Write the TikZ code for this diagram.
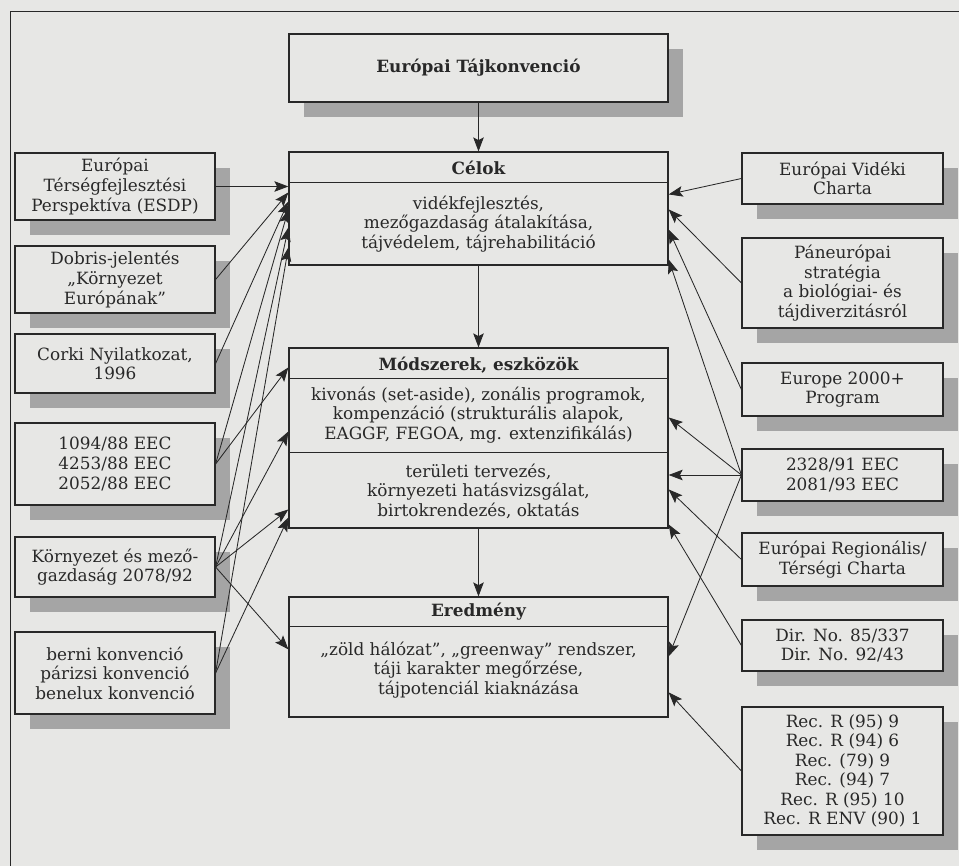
\documentclass[tikz,border=0pt]{standalone}
\usepackage{fontspec}
\setmainfont{DejaVu Serif}
\usepackage{tikz}
\usetikzlibrary{positioning,arrows.meta,calc,shadows}
\definecolor{paper}{RGB}{231,231,229}
\definecolor{inkgray}{RGB}{40,40,40}
\definecolor{shadegray}{RGB}{165,165,165}
\tikzset{
  source-box/.style={draw=inkgray, line width=0.8pt, fill=paper, align=center,
    inner sep=2pt, font=\fontsize{12}{13.9}\selectfont, text=inkgray,
    drop shadow={shadow xshift=0.375cm, shadow yshift=-0.375cm, fill=shadegray, opacity=1}},
  left-box/.style={source-box, minimum width=5cm},
  right-box/.style={source-box, minimum width=5.025cm},
  main-box/.style={draw=inkgray, line width=0.8pt, fill=paper, minimum width=9.475cm},
  title-text/.style={font=\fontsize{12}{13.9}\selectfont\bfseries, text=inkgray},
  body-text/.style={font=\fontsize{12}{13.9}\selectfont, text=inkgray, align=center},
  link-arrow/.style={-{Stealth[length=10pt,width=7.5pt,inset=2pt]}, line width=0.6pt, draw=inkgray},
  divider/.style={line width=0.8pt, draw=inkgray}
}

\begin{document}
\begin{tikzpicture}[x=0.025cm, y=-0.025cm]
\useasboundingbox (0,0) rectangle (959,866);
\clip (0,0) rectangle (959,866);
\fill[paper] (0,0) rectangle (959,866);
% page frame
\draw[inkgray, line width=0.7pt] (10,11) rectangle (990,900);

% Central column
\node[source-box, minimum width=9.475cm, minimum height=1.7cm, font=\fontsize{12}{13.9}\selectfont\bfseries] (tajkonv) at (478.5,68) {Európai Tájkonvenció};
\node[main-box, minimum height=2.825cm] (celok) at (478.5,208.5) {};
\node[main-box, minimum height=4.5cm] (modszer) at (478.5,438) {};
\node[main-box, minimum height=3cm] (eredmeny) at (478.5,657) {};

\draw[divider] ($(celok.north west)+(0,31)$) -- ($(celok.north east)+(0,31)$);
\draw[divider] ($(modszer.north west)+(0,31)$) -- ($(modszer.north east)+(0,31)$);
\draw[divider] ($(modszer.north west)+(0,105)$) -- ($(modszer.north east)+(0,105)$);
\draw[divider] ($(eredmeny.north west)+(0,30)$) -- ($(eredmeny.north east)+(0,30)$);

\node[title-text] (celok-title) at (478.5,168) {Célok};
\node[body-text] (celok-body) at (478.5,224) {vidékfejlesztés,\\mezőgazdaság átalakítása,\\tájvédelem, tájrehabilitáció};
\node[title-text] (modszer-title) at (478.5,365) {Módszerek, eszközök};
\node[body-text] (modszer-body) at (478.5,415) {kivonás (set-aside), zonális programok,\\kompenzáció (strukturális alapok,\\EAGGF, FEGOA, mg. extenzifikálás)};
\node[body-text] (modszer-plan) at (478.5,491) {területi tervezés,\\környezeti hatásvizsgálat,\\birtokrendezés, oktatás};
\node[title-text] (eredmeny-title) at (478.5,612) {Eredmény};
\node[body-text] (eredmeny-body) at (478.5,670) {„zöld hálózat”, „greenway” rendszer,\\táji karakter megőrzése,\\tájpotenciál kiaknázása};

% Left column
\node[left-box, minimum height=1.675cm] (esdp) at (115,186.5) {Európai\\Térségfejlesztési\\Perspektíva (ESDP)};
\node[left-box, minimum height=1.675cm] (dobris) at (115,279.5) {Dobris-jelentés\\„Környezet\\Európának”};
\node[left-box, minimum height=1.475cm] (corki) at (115,363.5) {Corki Nyilatkozat,\\1996};
\node[left-box, minimum height=2.05cm] (eec88) at (115,464) {1094/88 EEC\\4253/88 EEC\\2052/88 EEC};
\node[left-box, minimum height=1.5cm] (korny) at (115,567) {Környezet és mező-\\gazdaság 2078/92};
\node[left-box, minimum height=2.05cm] (berni) at (115,673) {berni konvenció\\párizsi konvenció\\benelux konvenció};

% Right column
\node[right-box, minimum height=1.275cm] (videki) at (842.5,178.5) {Európai Vidéki\\Charta};
\node[right-box, minimum height=2.25cm] (paneur) at (842.5,283) {Páneurópai\\stratégia\\a biológiai- és\\tájdiverzitásról};
\node[right-box, minimum height=1.325cm] (europe) at (842.5,389.5) {Europe 2000+\\Program};
\node[right-box, minimum height=1.3cm] (eec9193) at (842.5,475) {2328/91 EEC\\2081/93 EEC};
\node[right-box, minimum height=1.325cm] (regio) at (842.5,559.5) {Európai Regionális/\\Térségi Charta};
\node[right-box, minimum height=1.275cm] (dirno) at (842.5,645.5) {Dir. No. 85/337\\Dir. No. 92/43};
\node[right-box, minimum height=3.2cm] (recs) at (842.5,771) {Rec. R (95) 9\\Rec. R (94) 6\\Rec. (79) 9\\Rec. (94) 7\\Rec. R (95) 10\\Rec. R ENV (90) 1};

% Down the middle
\draw[link-arrow] (tajkonv) -- (celok);
\draw[link-arrow] (celok) -- (modszer);
\draw[link-arrow] (modszer) -- (eredmeny);

% From the left
\draw[link-arrow] (esdp.east) -- (esdp.east -| celok.west);
\draw[link-arrow] (dobris.east) -- ($(celok.north west)+(0,41)$);
\draw[link-arrow] (corki.east) -- ($(celok.north west)+(0,50)$);
\draw[link-arrow] (eec88.east) -- ($(celok.north west)+(0,58)$);
\draw[link-arrow] (eec88.east) -- ($(modszer.north west)+(0,20)$);
\draw[link-arrow] (korny.east) -- ($(celok.north west)+(0,76)$);
\draw[link-arrow] (korny.east) -- ($(modszer.north west)+(0,84)$);
\draw[link-arrow] (korny.east) -- ($(modszer.north west)+(0,162)$);
\draw[link-arrow] (korny.east) -- ($(eredmeny.north west)+(0,53)$);
\draw[link-arrow] (berni.east) -- ($(celok.north west)+(0,96)$);
\draw[link-arrow] (berni.east) -- ($(modszer.north west)+(0,170)$);

% From the right
\draw[link-arrow] (videki.west) -- ($(celok.north east)+(0,43)$);
\draw[link-arrow] (paneur.west) -- ($(celok.north east)+(0,58)$);
\draw[link-arrow] (europe.west) -- ($(celok.north east)+(0,78)$);
\draw[link-arrow] (eec9193.west) -- ($(celok.north east)+(0,108)$);
\draw[link-arrow] (eec9193.west) -- ($(modszer.north east)+(0,70)$);
\draw[link-arrow] (eec9193.west) -- (eec9193.west -| modszer.east);
\draw[link-arrow] (eec9193.west) -- ($(eredmeny.north east)+(0,60)$);
\draw[link-arrow] (regio.west) -- ($(modszer.north east)+(0,142)$);
\draw[link-arrow] (dirno.west) -- ($(modszer.north east)+(0,177)$);
\draw[link-arrow] (recs.west) -- ($(eredmeny.north east)+(0,96)$);
\end{tikzpicture}
\end{document}
